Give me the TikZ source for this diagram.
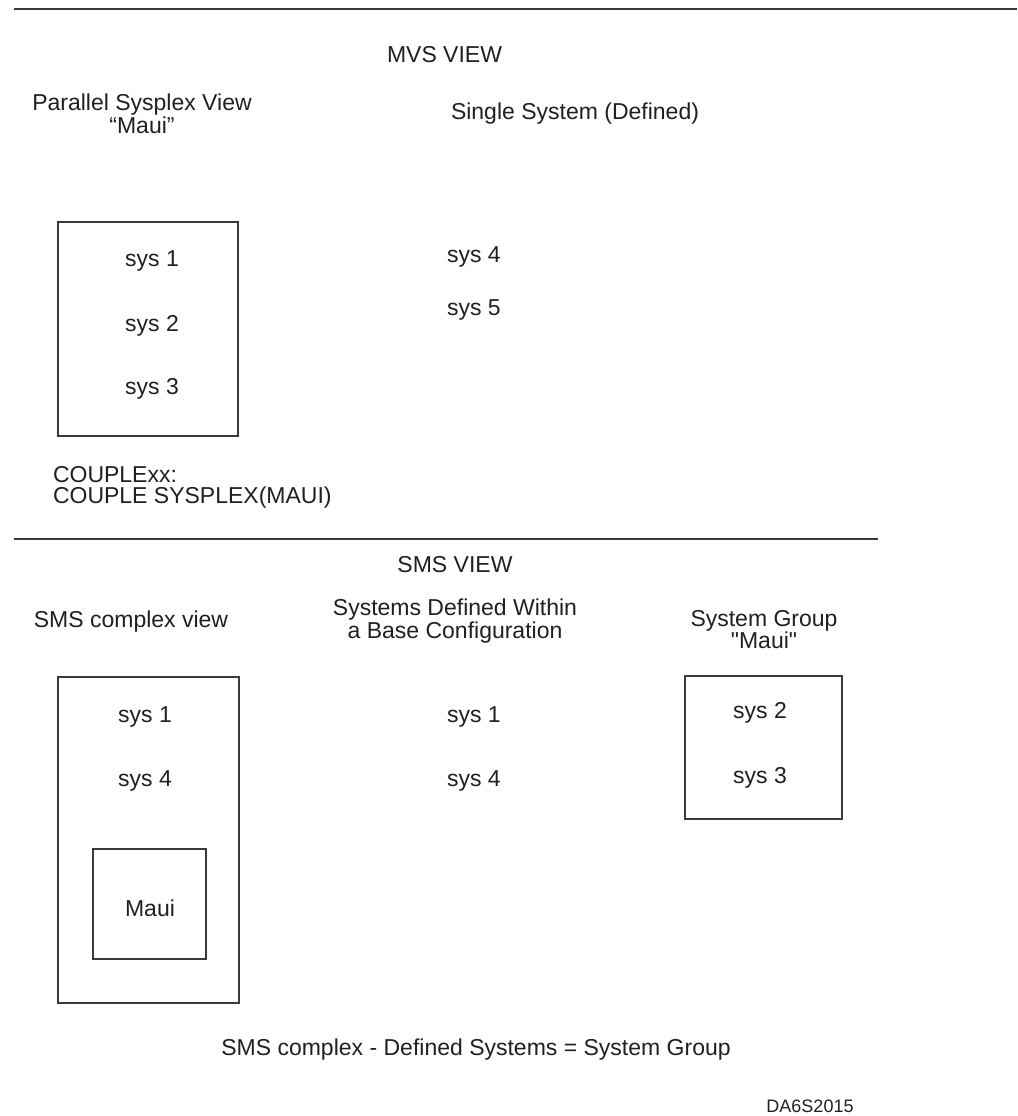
\documentclass[tikz,border=0pt]{standalone}
\usepackage{fontspec}
\setmainfont{Liberation Sans}[Ligatures=TeXOff]
\definecolor{ink}{HTML}{231F20}
\definecolor{rule}{HTML}{3A3A3A}
\begin{document}
\begin{tikzpicture}[x=1pt,y=-1pt,
  lbl/.style={inner sep=0pt,outer sep=0pt,text=ink,font=\fontsize{23}{21}\selectfont,anchor=base},
  lbll/.style={lbl,anchor=base west},
  ml/.style={lbl,align=center,anchor=north},
  mll/.style={lbl,align=left,anchor=north west},
  boxx/.style={draw=rule,line width=1.2pt},
  sep/.style={draw=rule,line width=2pt}]
\useasboundingbox[fill=white] (0,0) rectangle (1017,1116);
% separators
\coordinate (t1) at (14,9.5);
\coordinate (t2) at (1017,9.5);
\coordinate (s1) at (14,539);
\coordinate (s2) at (878,539);
\path[sep] (t1) -- (t2);
\path[sep] (s1) -- (s2);
% MVS view
\node[lbl] (mvs) at (444.5,63) {MVS VIEW};
\node[ml] (psv) at (142,94) {Parallel Sysplex View\\“Maui”};
\node[lbl] (ssd) at (575,119) {Single System (Defined)};
\node[boxx,minimum width=180pt,minimum height=214pt,inner sep=0pt] (box1) at (148,329) {};
\node[lbl] (a1) at (152,266) {sys 1};
\node[lbl] (a2) at (152,331) {sys 2};
\node[lbl] (a3) at (152,394) {sys 3};
\node[lbll] (a4) at (447,262) {sys 4};
\node[lbll] (a5) at (447,315) {sys 5};
\node[mll] (cpl) at (53,466) {COUPLExx:\\COUPLE SYSPLEX(MAUI)};
% SMS view
\node[lbl] (sms) at (455,572) {SMS VIEW};
\node[lbl] (scv) at (131,627) {SMS complex view};
\node[ml] (sdw) at (455,599) {Systems Defined Within\\a Base Configuration};
\node[ml] (sgm) at (764,610) {System Group\\"Maui"};
\node[boxx,minimum width=181pt,minimum height=326pt,inner sep=0pt] (box2) at (148.5,840) {};
\node[lbl] (b1) at (145,722) {sys 1};
\node[lbl] (b4) at (145,786) {sys 4};
\node[boxx,minimum width=113pt,minimum height=110pt,inner sep=0pt] (box3) at (149.5,904) {};
\node[lbl] (bm) at (150,916) {Maui};
\node[lbll] (c1) at (447,722) {sys 1};
\node[lbll] (c4) at (447,786) {sys 4};
\node[boxx,minimum width=157pt,minimum height=143pt,inner sep=0pt] (box4) at (763.5,747.5) {};
\node[lbl] (d2) at (760,718) {sys 2};
\node[lbl] (d3) at (760,783) {sys 3};
\node[lbl] (eq) at (476,1055) {SMS complex - Defined Systems = System Group};
\node[lbl,font=\fontsize{18}{20}\selectfont] (id) at (810,1112) {DA6S2015};
\end{tikzpicture}
\end{document}
